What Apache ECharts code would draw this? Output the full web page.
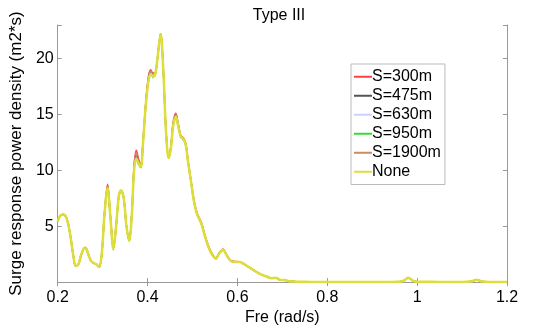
<!DOCTYPE html>
<html>
<head>
<meta charset="utf-8">
<script src="https://cdn.jsdelivr.net/npm/echarts@6/dist/echarts.min.js"></script>
<style>
  html, body { margin: 0; padding: 0; background: #fff; }
  #chart { width: 544px; height: 331px; }
</style>
</head>
<body>
<div id="chart"></div>
<script>
// frequency samples (rad/s)
const freq = [0.2, 0.205, 0.212, 0.22, 0.228, 0.235, 0.24, 0.246, 0.252, 0.258, 0.262, 0.268, 0.274, 0.28, 0.286, 0.292,
  0.298, 0.304, 0.311, 0.317, 0.324, 0.33, 0.336, 0.341, 0.347, 0.353, 0.359, 0.365, 0.37, 0.375, 0.38, 0.385,
  0.39, 0.396, 0.402, 0.407, 0.412, 0.417, 0.422, 0.429, 0.435, 0.441, 0.447, 0.452, 0.457, 0.463, 0.468, 0.474,
  0.48, 0.485, 0.49, 0.497, 0.503, 0.51, 0.52, 0.527, 0.535, 0.543, 0.552, 0.56, 0.568, 0.576, 0.585, 0.595,
  0.605, 0.615, 0.625, 0.635, 0.645, 0.655, 0.665, 0.675, 0.685, 0.695, 0.705, 0.715, 0.725, 0.74, 0.76, 0.8,
  0.85, 0.9, 0.95, 0.965, 0.973, 0.98, 0.988, 0.995, 1.01, 1.05, 1.1, 1.12, 1.132, 1.145, 1.16, 1.2];

const s300 = [5.4, 5.9, 6.05, 5.7, 4.2, 2.3, 1.45, 1.6, 2.4, 3.0, 3.1, 2.5, 1.9, 1.7, 1.6, 1.35,
  2.5, 6.1, 8.75, 6.1, 3.1, 5.0, 7.7, 8.2, 7.5, 5.0, 3.8, 6.2, 10.4, 11.8, 11.0, 10.5,
  12.7, 16.0, 18.4, 19.0, 18.7, 18.7, 20.0, 22.2, 19.0, 13.6, 11.2, 12.2, 14.3, 15.1, 14.2, 13.1,
  12.9, 12.4, 10.9, 9.0, 7.4, 6.2, 5.3, 4.3, 3.3, 2.6, 2.15, 2.65, 2.95, 2.45, 1.95, 1.85,
  1.8, 1.6, 1.35, 1.1, 0.85, 0.65, 0.5, 0.35, 0.4, 0.2, 0.18, 0.08, 0.05, 0.03, 0.02, 0.01,
  0.01, 0.01, 0.02, 0.05, 0.2, 0.38, 0.2, 0.05, 0.03, 0.02, 0.02, 0.05, 0.2, 0.05, 0.01, 0.01];

const s475 = [5.4, 5.9, 6.05, 5.7, 4.2, 2.3, 1.45, 1.6, 2.4, 3.0, 3.05, 2.5, 1.9, 1.7, 1.6, 1.35,
  2.5, 6.0, 8.5, 6.0, 3.0, 5.0, 7.7, 8.2, 7.5, 5.0, 3.7, 6.1, 10.2, 11.3, 10.8, 10.4,
  12.6, 15.9, 18.2, 18.8, 18.5, 18.6, 20.0, 22.2, 19.0, 13.5, 11.1, 12.1, 14.1, 14.9, 14.1, 13.0,
  12.8, 12.3, 10.8, 8.9, 7.3, 6.1, 5.2, 4.2, 3.2, 2.5, 2.1, 2.6, 2.9, 2.4, 1.9, 1.8,
  1.8, 1.6, 1.35, 1.1, 0.85, 0.65, 0.5, 0.35, 0.4, 0.2, 0.18, 0.08, 0.05, 0.03, 0.02, 0.01,
  0.01, 0.01, 0.02, 0.05, 0.2, 0.38, 0.2, 0.05, 0.03, 0.02, 0.02, 0.05, 0.2, 0.05, 0.01, 0.01];

const s630 = [5.4, 5.9, 6.05, 5.7, 4.2, 2.3, 1.45, 1.6, 2.4, 3.0, 3.05, 2.5, 1.9, 1.7, 1.6, 1.35,
  2.5, 6.0, 8.45, 6.0, 3.0, 5.0, 7.7, 8.2, 7.5, 5.0, 3.7, 6.0, 10.1, 11.2, 10.7, 10.35,
  12.5, 15.85, 18.1, 18.7, 18.45, 18.6, 20.0, 22.2, 19.0, 13.5, 11.1, 12.0, 14.0, 14.85, 14.0, 13.0,
  12.8, 12.3, 10.8, 8.9, 7.3, 6.1, 5.2, 4.2, 3.2, 2.5, 2.1, 2.6, 2.9, 2.4, 1.9, 1.8,
  1.8, 1.6, 1.35, 1.1, 0.85, 0.65, 0.5, 0.35, 0.4, 0.2, 0.18, 0.08, 0.05, 0.03, 0.02, 0.01,
  0.01, 0.01, 0.02, 0.05, 0.2, 0.38, 0.2, 0.05, 0.03, 0.02, 0.02, 0.05, 0.2, 0.05, 0.01, 0.01];

const s950 = [5.4, 5.9, 6.05, 5.7, 4.2, 2.3, 1.45, 1.6, 2.4, 3.0, 3.05, 2.5, 1.9, 1.7, 1.6, 1.35,
  2.5, 5.9, 8.2, 5.9, 2.9, 5.0, 7.7, 8.2, 7.5, 5.0, 3.7, 6.0, 10.0, 11.1, 10.5, 10.2,
  12.4, 15.7, 17.9, 18.5, 18.3, 18.5, 20.0, 22.2, 19.0, 13.5, 11.1, 12.0, 13.9, 14.7, 13.9, 12.9,
  12.7, 12.2, 10.7, 8.9, 7.3, 6.1, 5.2, 4.2, 3.2, 2.5, 2.1, 2.6, 2.9, 2.4, 1.9, 1.8,
  1.8, 1.6, 1.35, 1.1, 0.85, 0.65, 0.5, 0.35, 0.4, 0.2, 0.18, 0.08, 0.05, 0.03, 0.02, 0.01,
  0.01, 0.01, 0.02, 0.05, 0.2, 0.38, 0.2, 0.05, 0.03, 0.02, 0.02, 0.05, 0.2, 0.05, 0.01, 0.01];

const s1900 = [5.4, 5.9, 6.05, 5.7, 4.2, 2.3, 1.45, 1.6, 2.4, 3.0, 3.1, 2.5, 1.9, 1.7, 1.6, 1.35,
  2.5, 6.05, 8.6, 6.05, 3.05, 5.0, 7.7, 8.2, 7.5, 5.0, 3.75, 6.15, 10.3, 11.6, 10.9, 10.45,
  12.6, 15.95, 18.3, 18.9, 18.6, 18.65, 20.0, 22.2, 19.0, 13.6, 11.2, 12.1, 14.2, 15.0, 14.15, 13.05,
  12.85, 12.35, 10.85, 8.95, 7.35, 6.15, 5.25, 4.25, 3.25, 2.55, 2.12, 2.62, 2.92, 2.42, 1.92, 1.82,
  1.8, 1.6, 1.35, 1.1, 0.85, 0.65, 0.5, 0.35, 0.4, 0.2, 0.18, 0.08, 0.05, 0.03, 0.02, 0.01,
  0.01, 0.01, 0.02, 0.05, 0.2, 0.38, 0.2, 0.05, 0.03, 0.02, 0.02, 0.05, 0.2, 0.05, 0.01, 0.01];

const sNone = [5.4, 5.9, 6.05, 5.7, 4.2, 2.3, 1.45, 1.6, 2.4, 3.0, 3.05, 2.5, 1.9, 1.7, 1.6, 1.35,
  2.5, 6.0, 8.4, 6.0, 3.0, 5.0, 7.7, 8.2, 7.5, 5.0, 3.7, 6.0, 10.0, 11.0, 10.6, 10.3,
  12.5, 15.8, 18.0, 18.6, 18.4, 18.6, 20.0, 22.2, 19.0, 13.5, 11.1, 12.0, 14.0, 14.8, 14.0, 13.0,
  12.8, 12.3, 10.8, 8.9, 7.3, 6.1, 5.2, 4.2, 3.2, 2.5, 2.1, 2.6, 2.9, 2.4, 1.9, 1.8,
  1.8, 1.6, 1.35, 1.1, 0.85, 0.65, 0.5, 0.35, 0.4, 0.2, 0.18, 0.08, 0.05, 0.03, 0.02, 0.01,
  0.01, 0.01, 0.02, 0.05, 0.2, 0.38, 0.2, 0.05, 0.03, 0.02, 0.02, 0.05, 0.2, 0.05, 0.01, 0.01];

const seriesNames = ['S=300m', 'S=475m', 'S=630m', 'S=950m', 'S=1900m', 'None'];
const seriesValues = [s300, s475, s630, s950, s1900, sNone];
const xTicks = [0.2, 0.4, 0.6, 0.8, 1, 1.2];
const yTicks = [5, 10, 15, 20];

const styles = [
  { color: '#ff4040', type: 'solid', width: 1.5 },
  { color: '#555555', type: 'solid', width: 1.5 },
  { color: '#d0d0ff', type: 'solid', width: 1.5 },
  { color: '#30e030', type: 'dotted', width: 1.5 },
  { color: '#d08860', type: 'dashed', width: 1.5 },
  { color: '#dede3a', type: 'solid', width: 2.5 }
];

const font = 'Liberation Sans, Arial, sans-serif';
const chart = echarts.init(document.getElementById('chart'));

const axisCommon = {
  axisLine: { show: true, lineStyle: { color: '#999', width: 1 } },
  axisTick: { show: true, inside: true, length: 4, lineStyle: { color: '#999' } },
  splitLine: { show: false }
};

chart.setOption({
  animation: false,
  title: {
    text: 'Type III',
    left: 274,
    textAlign: 'center',
    top: 3,
    textStyle: { fontFamily: font, fontSize: 16, fontWeight: 'normal', color: '#000' }
  },
  legend: {
    orient: 'vertical',
    left: 351,
    top: 64,
    width: 93,
    padding: [4, 4, 4, 3],
    itemGap: 1.5,
    itemWidth: 18,
    itemHeight: 2,
    icon: 'rect',
    borderColor: '#bbb',
    borderWidth: 1,
    backgroundColor: '#fff',
    textStyle: { fontFamily: font, fontSize: 16, color: '#000', padding: [0, 0, 0, -5], lineHeight: 17.5 },
    data: seriesNames
  },
  grid: { left: 52, right: 37, top: 25, bottom: 42 },
  xAxis: [{
    type: 'value',
    min: 0.2,
    max: 1.2,
    interval: 0.2,
    name: 'Fre (rad/s)',
    nameLocation: 'middle',
    nameGap: 22,
    nameTextStyle: { fontFamily: font, fontSize: 16, color: '#000' },
    axisLabel: {
      fontFamily: font, fontSize: 16, color: '#000', margin: 7,
      formatter: v => (xTicks.some(t => Math.abs(t - v) < 1e-6) ? String(+v.toFixed(1)) : '')
    },
    ...axisCommon
  }, {
    type: 'value',
    position: 'top',
    min: 0.2,
    max: 1.2,
    interval: 0.2,
    axisLabel: { show: false },
    ...axisCommon
  }],
  yAxis: [{
    type: 'value',
    min: 0,
    max: 23,
    interval: 5,
    name: 'Surge response power density (m2*s)',
    nameLocation: 'middle',
    nameGap: 21,
    nameTextStyle: { fontFamily: font, fontSize: 17, color: '#000' },
    axisLabel: {
      fontFamily: font, fontSize: 16, color: '#000', margin: 4,
      formatter: v => (yTicks.includes(v) ? String(v) : '')
    },
    ...axisCommon
  }, {
    type: 'value',
    position: 'right',
    min: 0,
    max: 23,
    interval: 5,
    axisLabel: { show: false },
    ...axisCommon
  }],
  series: seriesNames.map((name, i) => ({
    name: name,
    type: 'line',
    smooth: 0.35,
    symbol: 'none',
    z: 2 + i,
    lineStyle: styles[i],
    itemStyle: { color: styles[i].color },
    data: freq.map((f, j) => [f, seriesValues[i][j]])
  }))
});
</script>
</body>
</html>
